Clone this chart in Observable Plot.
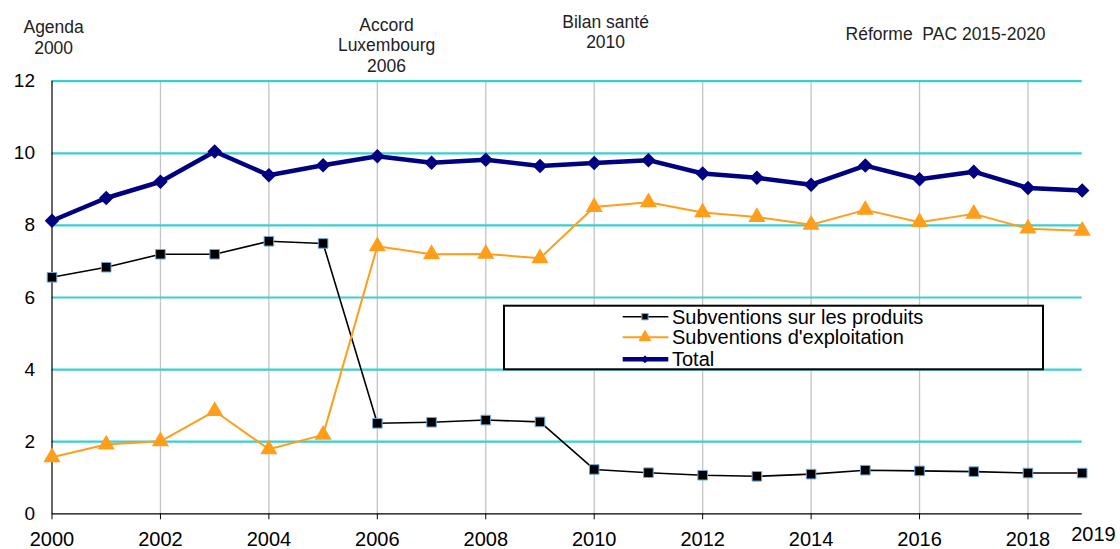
<!DOCTYPE html>
<html>
<head>
<meta charset="utf-8">
<script src="https://cdn.jsdelivr.net/npm/d3@7"></script>
<script src="https://cdn.jsdelivr.net/npm/@observablehq/plot@0.6"></script>
<style>
  html, body { margin: 0; padding: 0; background: #fff; }
  #chart { width: 1120px; height: 549px; }
  svg { font-family: "Liberation Sans", Arial, sans-serif; }
</style>
</head>
<body>
<div id="chart"></div>
<script>
const years = [2000,2001,2002,2003,2004,2005,2006,2007,2008,2009,2010,2011,2012,2013,2014,2015,2016,2017,2018,2019];
const produits = [6.56,6.84,7.20,7.20,7.56,7.50,2.51,2.54,2.60,2.55,1.23,1.14,1.07,1.04,1.10,1.21,1.19,1.17,1.13,1.13];
const exploitation = [1.57,1.92,2.01,2.85,1.79,2.19,7.42,7.20,7.21,7.09,8.51,8.64,8.36,8.23,8.02,8.43,8.09,8.32,7.91,7.85];
const total = [8.13,8.76,9.21,10.05,9.39,9.67,9.92,9.74,9.82,9.65,9.73,9.81,9.44,9.32,9.13,9.66,9.28,9.49,9.04,8.97];
const seriesNames = ["Subventions sur les produits", "Subventions d'exploitation", "Total"];
const xTicks = [2000,2002,2004,2006,2008,2010,2012,2014,2016,2018];
const yTicks = [0,2,4,6,8,10,12];
const annotationYears = [2000.03, 2006.17, 2010.21, 2016.48];
const annotationLabels = ["Agenda\n2000", "Accord\nLuxembourg\n2006", "Bilan santé\n2010", "Réforme  PAC 2015-2020"];
const lastLabel = ["2019"];

const annDy = [-44.4, -36.4, -49.9, -48];
const rows = (vals) => years.map((y, i) => ({year: y, value: vals[i]}));
const dProd = rows(produits), dExp = rows(exploitation), dTot = rows(total);

const colProd = "#000000", colExp = "#FF9E1B", colTot = "#000080", colMarkEdge = "#6FA8DC";

const annotationMarks = annotationYears.map((yr, i) =>
  Plot.text([annotationLabels[i]], {x: () => yr, text: d => d, frameAnchor: "top", lineAnchor: "middle", dy: annDy[i], fontSize: 17.5, lineHeight: 1.17, fill: "#222"})
);

const chart = Plot.plot({
  width: 1120, height: 549,
  marginLeft: 51.5, marginRight: 38.3, marginTop: 80.7, marginBottom: 35.7,
  style: {fontFamily: "'Liberation Sans', Arial, sans-serif", fontSize: "19px", color: "#000", background: "#fff"},
  x: {domain: [2000, 2019], label: null},
  y: {domain: [0, 12], label: null},
  marks: [
    Plot.ruleX(xTicks.slice(1), {stroke: "#c4c4c4", strokeWidth: 1.3}),
    Plot.ruleY(yTicks.slice(1), {x1: 2000, x2: 2019, stroke: "#3ACFCF", strokeWidth: 2.2}),
    Plot.axisX({ticks: xTicks, tickFormat: "d", tickSize: 6, tickPadding: 12.4, fontSize: 20, stroke: "#000", label: null}),
    Plot.axisY({ticks: yTicks, tickSize: 0, tickPadding: 17, fontSize: 19, label: null}),
    Plot.ruleY([0], {stroke: "#000", strokeWidth: 1.2}),
    Plot.ruleX([2000], {stroke: "#000", strokeWidth: 1.2}),
    Plot.text(lastLabel, {x: 2019, frameAnchor: "bottom", dy: 21, dx: 11.3, text: d => d, fontSize: 20, lineAnchor: "middle"}),
    ...annotationMarks,
    Plot.line(dProd, {x: "year", y: "value", stroke: colProd, strokeWidth: 1.6}),
    Plot.dot(dProd, {x: "year", y: "value", symbol: "square", r: 5.4, fill: colProd, stroke: colMarkEdge, strokeWidth: 1}),
    Plot.line(dExp, {x: "year", y: "value", stroke: colExp, strokeWidth: 2}),
    Plot.dot(dExp, {x: "year", y: "value", symbol: "triangle", r: 5.4, fill: colExp, stroke: colExp}),
    Plot.line(dTot, {x: "year", y: "value", stroke: colTot, strokeWidth: 4.5}),
    Plot.dot(dTot, {x: "year", y: "value", symbol: "diamond2", r: 5.6, fill: colTot, stroke: colTot})
  ]
});
document.getElementById("chart").appendChild(chart);

// Legend inside the SVG
const svg = d3.select(chart);
const lg = svg.append("g").attr("transform", "translate(504,305.7)").attr("text-anchor", "start");
lg.append("rect").attr("width", 539).attr("height", 63.6).attr("fill", "#fff").attr("stroke", "#000").attr("stroke-width", 2);
const styles = [
  {stroke: colProd, w: 1.6, sym: d3.symbolSquare, size: 40, fill: colProd, sstroke: colMarkEdge},
  {stroke: colExp, w: 2, sym: d3.symbolTriangle, size: 60, fill: colExp, sstroke: colExp},
  {stroke: colTot, w: 4.5, sym: d3.symbolDiamond2, size: 30, fill: colTot, sstroke: colTot}
];
const rowY = [11, 31.6, 53.6];
seriesNames.forEach((name, i) => {
  const cy = rowY[i];
  const s = styles[i];
  lg.append("line").attr("x1", 118.7).attr("x2", 164.3).attr("y1", cy).attr("y2", cy).attr("stroke", s.stroke).attr("stroke-width", s.w);
  lg.append("path").attr("d", d3.symbol(s.sym, s.size)()).attr("transform", `translate(141,${cy})`).attr("fill", s.fill).attr("stroke", s.sstroke);
  lg.append("text").attr("x", 168).attr("y", cy).attr("dy", "0.35em").attr("font-size", 20).attr("text-anchor", "start").text(name);
});
</script>
</body>
</html>
